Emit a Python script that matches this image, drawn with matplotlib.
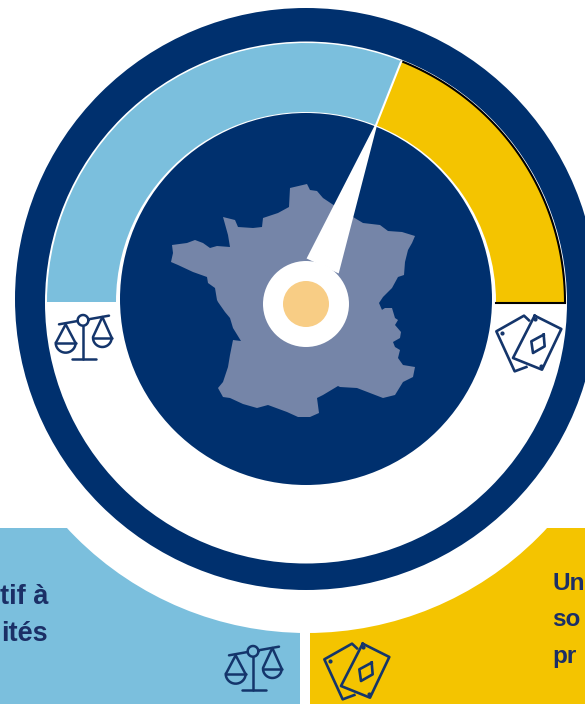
import matplotlib
matplotlib.use("Agg")
import matplotlib.pyplot as plt
from matplotlib.patches import Circle, Polygon, Rectangle, Wedge
import numpy as np

# shares of the half gauge
gauge_labels = ["balance", "cards"]
gauge_shares = [62, 38]
gauge_colors = ["#7bbfdd", "#f4c400"]

left_text = ["tif à", "ités"]
right_text = ["Un", "so", "pr"]

NAVY = "#00306e"
TEXT = "#1b2f66"
ICON = "#14356b"

# France outline, in image pixels
france_x = [290, 307, 310, 317, 323, 332, 353, 363, 380, 388, 402, 415, 412, 408, 405, 404,
            398, 392, 383, 379, 382, 377, 385, 392, 395, 398, 395, 401, 400, 393, 395, 400,
            398, 403, 415, 413, 403, 395, 383, 370, 357, 340, 338, 323, 317, 319, 310, 298,
            287, 268, 257, 243, 230, 223, 218, 223, 228, 230, 233, 241, 233, 230, 225, 218,
            217, 215, 208, 207, 193, 178, 171, 173, 172, 187, 195, 203, 210, 217, 230, 228,
            223, 235, 238, 253, 262, 263, 278, 289]
france_y = [188, 184, 190, 191, 198, 204, 217, 223, 225, 231, 232, 236, 243, 250, 262, 275,
            277, 288, 297, 303, 310, 313, 308, 308, 318, 320, 325, 332, 338, 342, 347, 350,
            358, 365, 367, 377, 382, 395, 398, 393, 388, 387, 386, 395, 398, 413, 417, 417,
            412, 405, 408, 404, 398, 397, 388, 382, 367, 355, 340, 341, 328, 318, 312, 302,
            300, 288, 283, 277, 272, 265, 262, 253, 245, 243, 240, 243, 248, 246, 247, 235,
            217, 220, 227, 228, 227, 218, 213, 207]

H = 704


def up(y):
    return H - np.asarray(y, dtype=float)


fig = plt.figure(figsize=(5.85, 7.04), dpi=100)
ax = fig.add_axes([0, 0, 1, 1])
ax.set_xlim(0, 585)
ax.set_ylim(0, H)
ax.axis("off")

# bottom panels
ax.add_patch(Rectangle((0, 0), 300, H - 528, color=gauge_colors[0], lw=0))
ax.add_patch(Rectangle((310, 0), 275, H - 528, color=gauge_colors[1], lw=0))
ax.add_patch(Circle((307, up(306)), 327, color="white", lw=0))

# ring
ax.add_patch(Circle((306, up(299)), 291, color=NAVY, lw=0))
ax.add_patch(Circle((306, up(302.5)), 261, color="white", lw=0))

# gauge band, yellow from the right, blue from the left
cx, cy = 306, up(302)
r_out, r_in = 259, 190
split = 180 * gauge_shares[1] / sum(gauge_shares)
a = np.radians(split)
ax.add_patch(Wedge((cx, cy), r_out, 0, split, width=r_out - r_in, facecolor=gauge_colors[1],
                   edgecolor="none", zorder=2))
ax.add_patch(Wedge((cx, cy), r_out, split, 180, width=r_out - r_in, facecolor=gauge_colors[0],
                   edgecolor="none", zorder=2))
# black edge on the outside and the foot of the yellow part
t = np.linspace(0, a, 60)
ax.plot(cx + r_out * np.cos(t), cy + r_out * np.sin(t), color="black", lw=1.5, zorder=3)
ax.plot([cx + r_in, cx + r_out], [cy - 1, cy - 1], color="black", lw=1.5, zorder=3)
# white split
ax.plot([cx + r_in * np.cos(a), cx + r_out * np.cos(a)],
        [cy + r_in * np.sin(a), cy + r_out * np.sin(a)], color="white", lw=1.5, zorder=3)

# centre disc and map
ax.add_patch(Circle((306, up(299)), 186, color=NAVY, lw=0, zorder=3))
ax.add_patch(Polygon(np.column_stack([france_x, up(france_y)]), closed=True, facecolor="#7585a8",
                     edgecolor="none", zorder=4))

# needle and hub
tip = (cx + r_in * np.cos(a), cy + r_in * np.sin(a))
ax.add_patch(Polygon([tip, (308, up(258)), (338, up(272))], closed=True, facecolor="white",
                     edgecolor="white", lw=1.5, zorder=5))
ax.add_patch(Circle((306, up(304)), 43, color="white", lw=0, zorder=5))
ax.add_patch(Circle((306, up(304)), 23, color="#f8cd85", lw=0, zorder=6))


def scales_icon(px, py):
    # local coordinates are 3x pixels around the icon centre
    def line(xs, ys):
        ax.plot(px + (np.array(xs) - 160) / 3, up(py + (np.array(ys) - 140) / 3),
                color=ICON, lw=1.8, zorder=7, solid_capstyle="round")
    t = np.linspace(0, 2 * np.pi, 40)
    line(160 + 16 * np.cos(t), 90 + 16 * np.sin(t))
    line([160, 160], [106, 207])
    line([127, 198], [207, 207])
    line([88, 144], [102, 92])
    line([176, 238], [87, 76])
    line([80, 108, 136], [155, 102, 155])
    line([190, 218, 245], [140, 80, 140])
    t = np.linspace(0, np.pi, 20)
    line(108 + 30 * np.cos(t), 157 + 30 * np.sin(t))
    line([78, 138], [157, 157])
    line(218 + 28 * np.cos(t), 142 + 28 * np.sin(t))
    line([190, 246], [142, 142])


def cards_icon(px, py):
    def line(xs, ys):
        ax.plot(px + (np.array(xs) - 148) / 3, up(py + (np.array(ys) - 160) / 3),
                color=ICON, lw=1.9, zorder=7, solid_joinstyle="round")
    line([148, 133, 50, 105, 140], [92, 78, 125, 245, 232])
    line([165, 245, 187, 100, 165], [78, 118, 240, 205, 78])
    line([192, 195, 160, 155, 192], [135, 170, 190, 155, 135])
    for dx, dy in [(68, 130), (167, 88), (183, 230)]:
        ax.plot(px + (dx - 148) / 3, up(py + (dy - 160) / 3), "o", ms=2, color=ICON, zorder=7)


scales_icon(83, 337)
scales_icon(253, 668)
cards_icon(529, 343)
cards_icon(357, 671)

# panel text
for s, y in zip(left_text, [597, 634]):
    ax.text(48, up(y), s, ha="right", va="center", fontsize=19.5, fontweight="bold",
            family="Liberation Sans", color=TEXT)
for s, y in zip(right_text, [583, 620, 657]):
    ax.text(552, up(y), s, ha="left", va="center", fontsize=17.5, fontweight="bold",
            family="Liberation Sans", color=TEXT)

fig.savefig("out.png", dpi=100)
